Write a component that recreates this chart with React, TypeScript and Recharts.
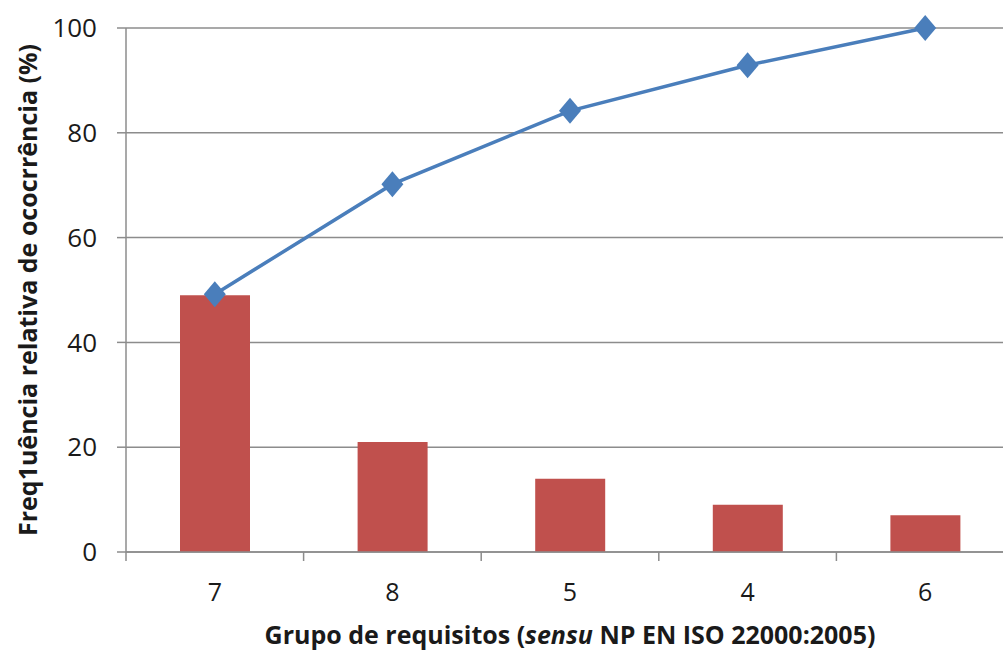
import React from 'react';
import {
  ComposedChart,
  Bar,
  Line,
  XAxis,
  YAxis,
  CartesianGrid,
} from 'recharts';

// Grupos de requisitos, ordenados por frequência
const categories = ['7', '8', '5', '4', '6'];
const frequencia = [49, 21, 14, 9, 7];
const acumulada = [49.2, 70.2, 84.2, 92.9, 100];
const yTicks = [0, 20, 40, 60, 80, 100];

const data = categories.map((c, i) => ({
  grupo: c,
  freq: frequencia[i],
  acum: acumulada[i],
}));

const CHART_W = 1014;
const CHART_H = 652;
const X_AXIS_H = 100;
const MARGIN = { top: 28, right: 0, bottom: 0, left: 0 };
const Y_AXIS_W = 126;
const AXIS_Y = CHART_H - MARGIN.bottom - X_AXIS_H;
const HALF_BAND = (CHART_W - Y_AXIS_W - MARGIN.left - MARGIN.right) / categories.length / 2;

const FONT = '"Open Sans", "Noto Sans", sans-serif';

const XTick = (props: any) => {
  const { x, payload } = props;
  return (
    <g>
      <line x1={x - HALF_BAND} x2={x - HALF_BAND} y1={AXIS_Y} y2={AXIS_Y + 9} stroke="#8c8c8c" strokeWidth={1.5} />
      <text
        x={x}
        y={AXIS_Y + 39}
        textAnchor="middle"
        dominantBaseline="central"
        fontSize={25}
        fontFamily={FONT}
        fill="#1a1a1a"
      >
        {payload.value}
      </text>
    </g>
  );
};

const Diamond = (props: any) => {
  const { cx, cy } = props;
  if (cx == null || cy == null) return null;
  return (
    <polygon
      points={`${cx},${cy - 13} ${cx + 11},${cy} ${cx},${cy + 13} ${cx - 11},${cy}`}
      fill="#4a7ebb"
    />
  );
};

export default function App() {
  return (
    <div style={{ position: 'absolute', left: 0, top: 0, width: 1003, height: 652, overflow: 'hidden', background: '#fff' }}>
      <ComposedChart width={CHART_W} height={CHART_H} data={data} margin={MARGIN}>
        <CartesianGrid vertical={false} stroke="#8c8c8c" strokeWidth={1.5} />
        <XAxis
          dataKey="grupo"
          height={X_AXIS_H}
          tick={<XTick />}
          tickLine={false}
          axisLine={{ stroke: '#8c8c8c', strokeWidth: 1.5 }}
          interval={0}
        />
        <YAxis
          width={Y_AXIS_W}
          domain={[0, 100]}
          ticks={yTicks}
          tickSize={9}
          tickMargin={20}
          tickLine={{ stroke: '#8c8c8c', strokeWidth: 1.5 }}
          axisLine={{ stroke: '#8c8c8c', strokeWidth: 1.5 }}
          tick={{ fontSize: 26, fontFamily: FONT, fill: '#1a1a1a' }}
        />
        <Bar dataKey="freq" fill="#c0504d" barSize={70} isAnimationActive={false} />
        <Line
          dataKey="acum"
          stroke="#4a7ebb"
          strokeWidth={3.5}
          dot={<Diamond />}
          activeDot={false}
          isAnimationActive={false}
        />
        <text
          x={27}
          y={290}
          transform="rotate(-90, 27, 290)"
          textAnchor="middle"
          dominantBaseline="central"
          fontSize={25}
          fontWeight="bold"
          fontFamily={FONT}
          fill="#1a1a1a"
        >
          Freq1uência relativa de ococrrência (%)
        </text>
        <text
          x={570}
          y={634}
          textAnchor="middle"
          dominantBaseline="central"
          fontSize={25}
          fontWeight="bold"
          fontFamily={FONT}
          fill="#1a1a1a"
        >
          Grupo de requisitos (<tspan fontStyle="italic">sensu</tspan> NP EN ISO 22000:2005)
        </text>
      </ComposedChart>
    </div>
  );
}
